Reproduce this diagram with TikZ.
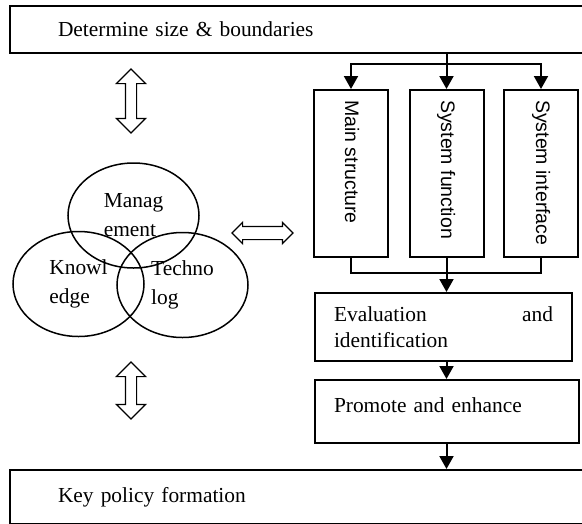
\documentclass[tikz,border=0pt]{standalone}
\usepackage{fontspec}
\setmainfont{Liberation Serif}
\setsansfont{Liberation Sans}
\usetikzlibrary{
	arrows.meta,
	shapes.geometric,
	shapes.arrows,
	positioning
}

\begin{document}
\begin{tikzpicture}
[x=1pt,y=-1pt,
box/.style={rectangle,draw=black,line width=2pt,inner sep=0pt,font=\fontsize{21.4}{25.7}\selectfont},
wide/.style={box,anchor=north west,minimum height=47pt,text width=500pt,inner xsep=48pt,align=left},
tall/.style={box,anchor=north,minimum width=74pt,minimum height=167pt},
vtext/.style={font=\sffamily\fontsize{19.5}{23}\selectfont,rotate=-90,anchor=base west,inner sep=0pt},
venn/.style={ellipse,draw=black,line width=1.5pt,minimum width=131pt,minimum height=105pt,inner sep=0pt,align=left,font=\fontsize{21.4}{29}\selectfont},
dbl/.style={double arrow,draw=black,line width=1.2pt,fill=white,inner sep=0pt,double arrow head indent=0pt},
flow/.style={line width=2pt},
feed/.style={flow,-{Triangle[width=14pt,length=13pt]}}]
\useasboundingbox (0,0) rectangle (582,523);
\clip (0,0) rectangle (582,523);

% outer boxes, cut off at the right
\node[wide] (size) at (9,5) {Determine size \& boundaries};
\node[wide,minimum height=54pt] (key) at (9,469) {Key policy formation};

% three aspects
\node[tall] (mains) at (351,89) {};
\node[tall] (sysf) at (446.5,89) {};
\node[tall] (sysi) at (541,89) {};
\node[vtext] (mainsT) at ([xshift=-6pt,yshift=-11pt]mains.north) {Main structure};
\node[vtext] (sysfT) at ([xshift=-5.5pt,yshift=-11pt]sysf.north) {System function};
\node[vtext] (sysiT) at ([xshift=-5pt,yshift=-11pt]sysi.north) {System interface};

\node[box,anchor=north west,minimum width=257pt,minimum height=68pt,text width=219pt,align=justify] (eval) at (314,292) {Evaluation\hfill and\\identification};
\node[box,anchor=north west,minimum width=264pt,minimum height=63pt,text width=226pt,text depth=12pt,align=left] (prom) at (314,379) {Promote and enhance};

% split and merge
\coordinate (split) at (446.5,64);
\coordinate (merge) at (446.5,273);
\draw[flow] (size.south -| split) -- (split);
\draw[feed] (split) -| (mains.north);
\draw[feed] (split) -- (sysf.north);
\draw[feed] (split) -| (sysi.north);
\draw[flow] (mains.south) |- (merge) -| (sysi.south);
\draw[feed] (sysf.south) -- (sysf.south |- eval.north);
\draw[feed] (eval.south -| sysf) -- (prom.north -| sysf);
\draw[feed] (prom.south -| sysf) -- (key.north -| sysf);

% the three sets
\node[venn] (mgmt) at (133.5,215.5) {Manag\\ement};
\node[venn] (know) at (78.5,284) {Knowl\\edge};
\node[venn] (tech) at (182.5,285) {Techno\\log};

% two-way arrows
\node[dbl,text height=5pt,text depth=5pt,double arrow head extend=9pt,minimum height=64pt,rotate=90] (upper) at (131,101) {};
\node[dbl,text height=5pt,text depth=5pt,double arrow head extend=9pt,minimum height=57pt,rotate=90] (lower) at (131,390.5) {};
\node[dbl,text height=6pt,text depth=6pt,double arrow head extend=4pt,minimum height=61pt] (link) at (262.5,233) {};
\end{tikzpicture}
\end{document}
